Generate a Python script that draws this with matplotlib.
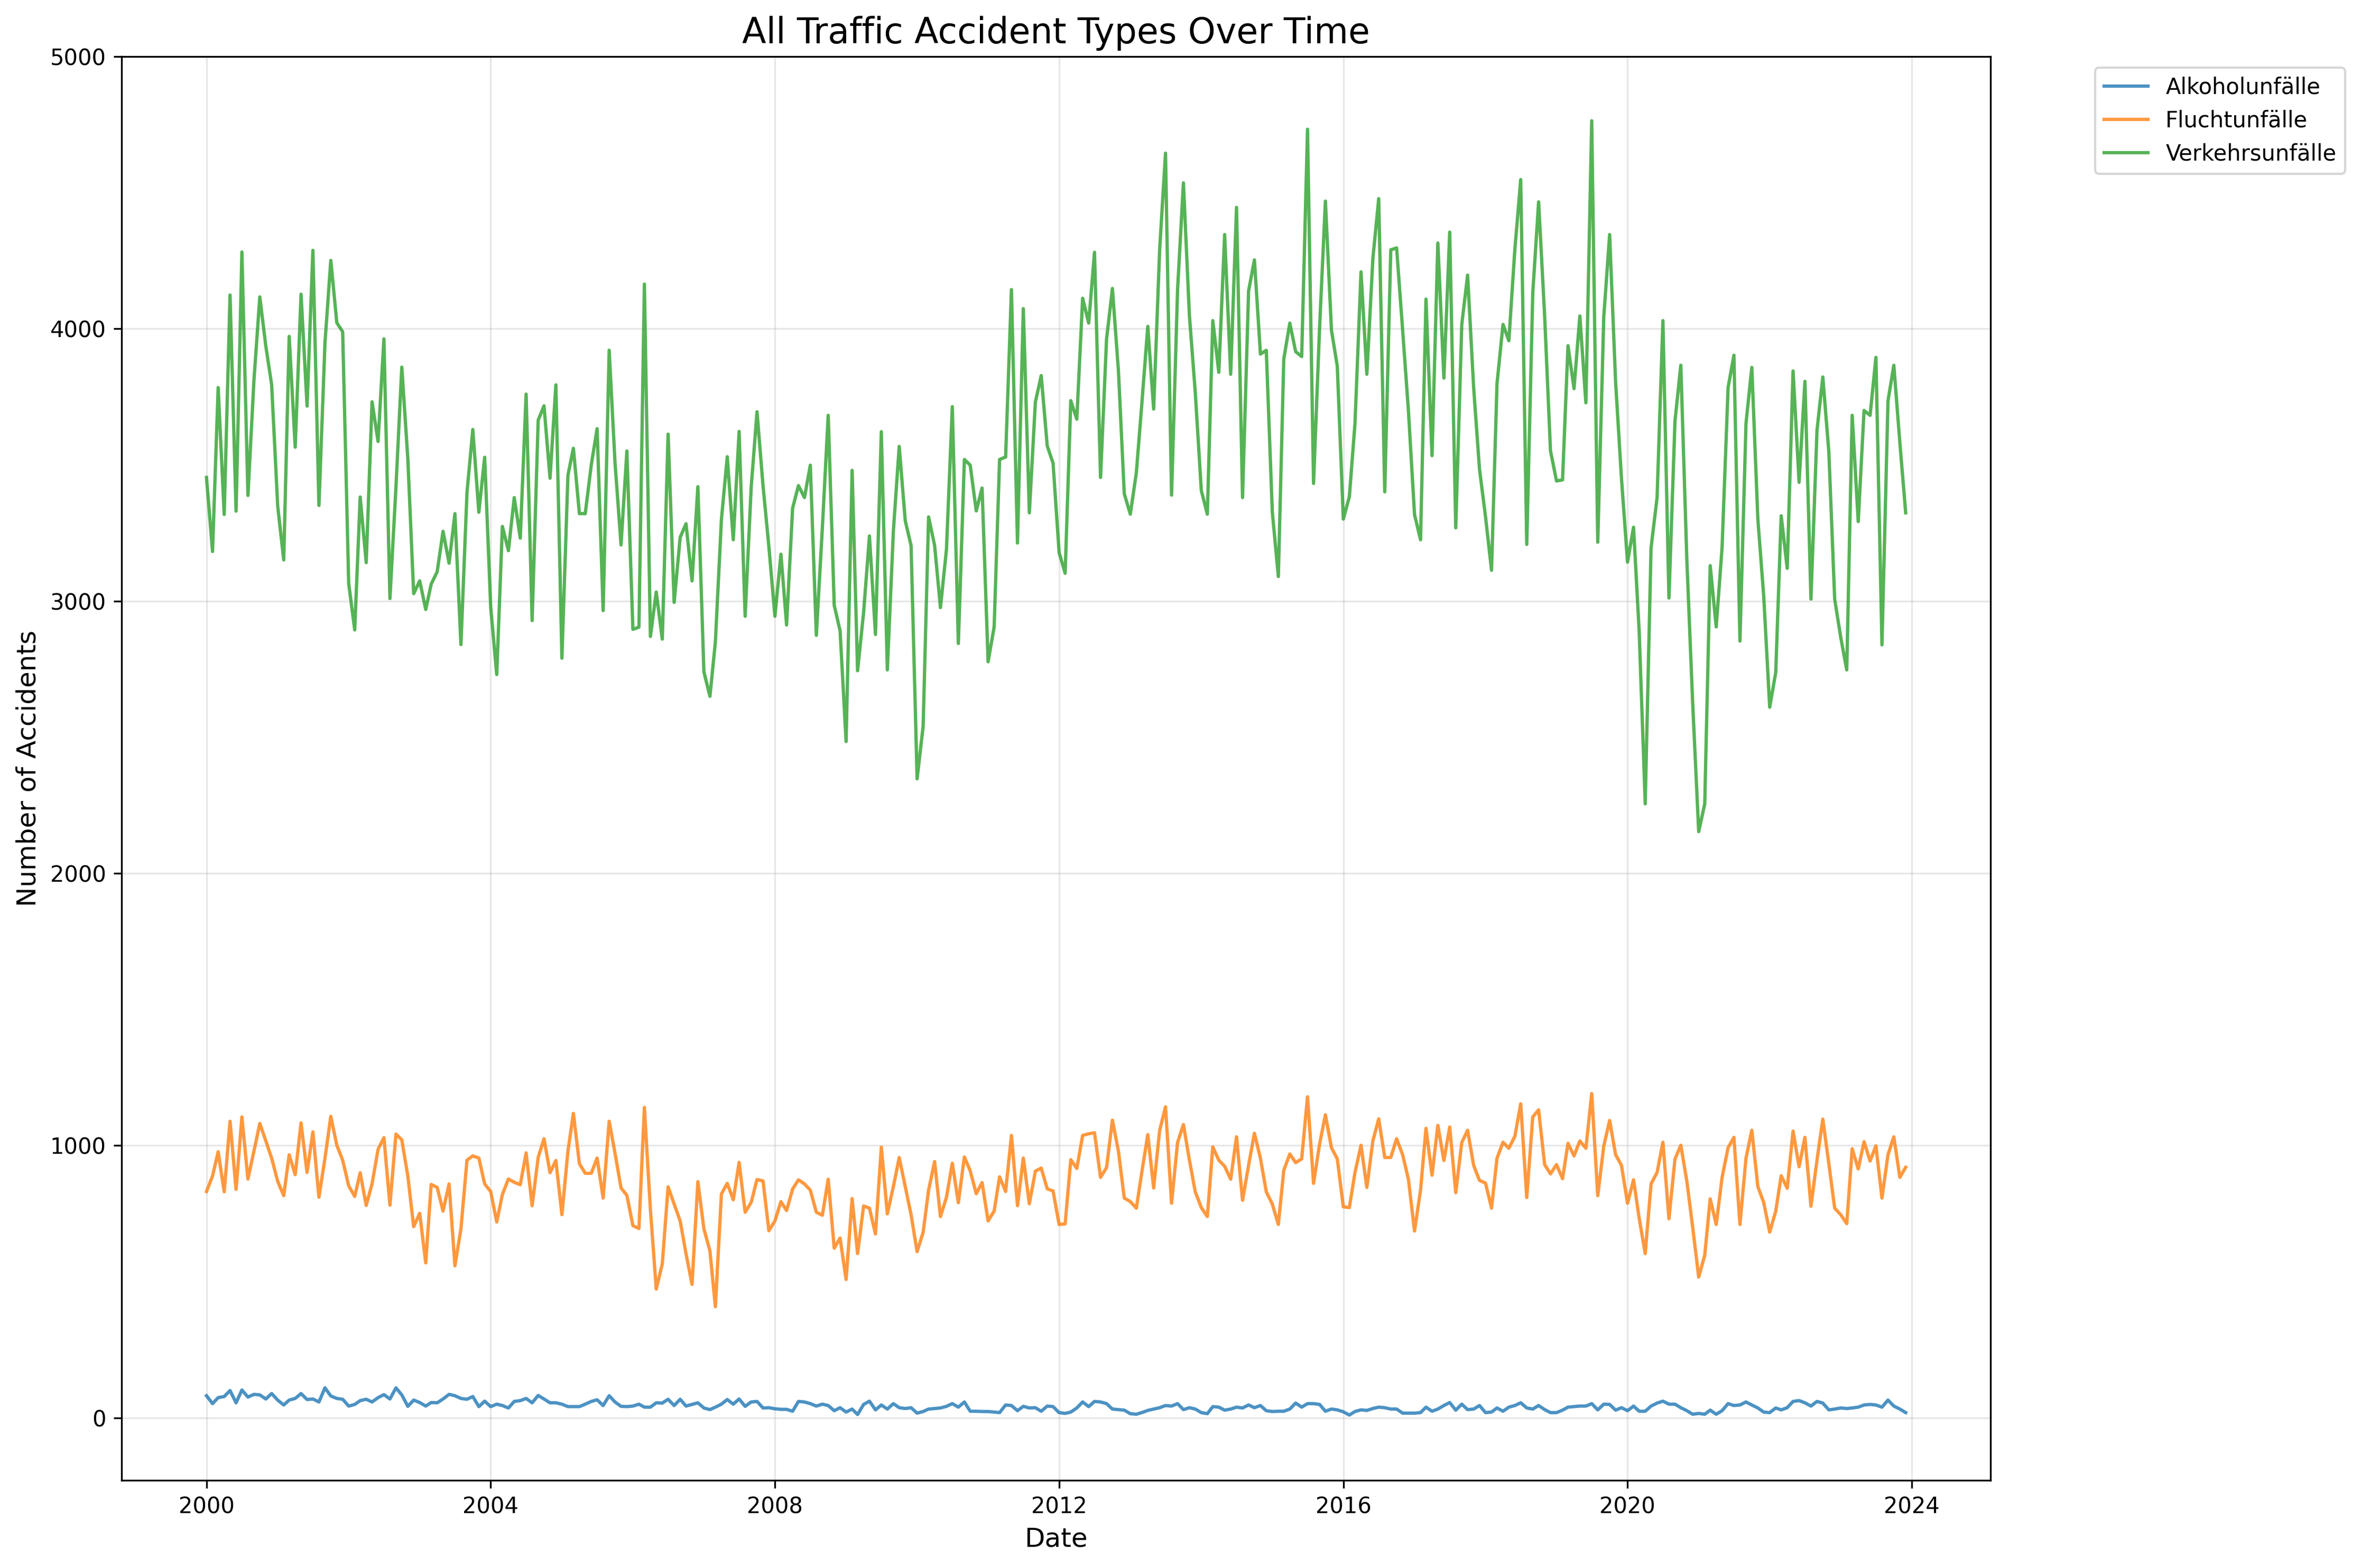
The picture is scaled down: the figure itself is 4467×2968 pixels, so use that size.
import matplotlib
matplotlib.use('Agg')
import matplotlib.pyplot as plt
import pandas as pd

# Monatswerte Jan 2000 - Dez 2023
dates = pd.date_range('2000-01-01', periods=288, freq='MS')

alkohol = [
    81, 52, 74, 78, 100, 55, 102, 76, 86, 84, 69, 89,
    65, 47, 65, 71, 89, 67, 69, 58, 110, 80, 71, 68,
    43, 49, 63, 68, 58, 74, 85, 69, 110, 84, 42, 65,
    56, 43, 56, 55, 69, 86, 81, 71, 68, 78, 41, 61,
    41, 50, 45, 36, 60, 63, 71, 55, 82, 69, 55, 55,
    50, 41, 41, 41, 50, 60, 66, 45, 81, 58, 42, 41,
    43, 50, 39, 39, 55, 54, 68, 45, 68, 43, 49, 55,
    36, 30, 39, 50, 67, 50, 69, 42, 58, 60, 36, 37,
    33, 31, 31, 24, 60, 58, 52, 43, 50, 45, 26, 37,
    21, 32, 12, 49, 61, 29, 47, 32, 52, 37, 34, 37,
    17, 23, 32, 34, 36, 42, 52, 39, 58, 24, 24, 23,
    23, 21, 19, 47, 45, 26, 42, 36, 37, 24, 43, 41,
    19, 16, 21, 36, 58, 41, 60, 58, 52, 32, 30, 28,
    15, 13, 19, 27, 32, 37, 45, 43, 52, 30, 37, 32,
    19, 15, 41, 39, 28, 32, 39, 36, 47, 37, 45, 26,
    23, 24, 24, 32, 54, 39, 52, 52, 49, 24, 32, 29,
    22, 10, 23, 29, 27, 34, 39, 37, 32, 32, 17, 17,
    17, 19, 39, 24, 32, 45, 56, 28, 50, 30, 32, 45,
    19, 21, 36, 24, 39, 45, 55, 36, 32, 45, 30, 19,
    19, 28, 39, 41, 43, 43, 52, 29, 50, 49, 28, 37,
    26, 43, 24, 24, 43, 54, 61, 50, 50, 37, 26, 13,
    16, 13, 28, 13, 26, 52, 45, 47, 58, 47, 36, 21,
    19, 36, 29, 37, 60, 63, 55, 43, 60, 54, 29, 32,
    36, 34, 36, 39, 47, 49, 47, 39, 65, 43, 32, 19,
]

flucht = [
    831, 888, 977, 830, 1089, 839, 1105, 877, 980, 1081, 1017, 953,
    869, 816, 966, 893, 1083, 901, 1050, 810, 953, 1107, 1001, 946,
    852, 813, 900, 780, 859, 986, 1029, 781, 1042, 1021, 888, 702,
    751, 569, 857, 846, 759, 859, 558, 694, 946, 962, 954, 859,
    831, 719, 820, 877, 865, 856, 973, 779, 956, 1025, 900, 945,
    746, 979, 1118, 933, 898, 898, 954, 807, 1089, 972, 844, 817,
    706, 695, 1140, 765, 473, 565, 848, 785, 723, 603, 490, 867,
    694, 613, 408, 822, 861, 801, 938, 755, 791, 875, 870, 687,
    723, 794, 761, 840, 874, 859, 836, 755, 744, 876, 623, 660,
    508, 805, 603, 778, 770, 675, 994, 749, 849, 956, 849, 746,
    610, 681, 836, 941, 739, 810, 935, 790, 958, 907, 823, 864,
    723, 759, 885, 831, 1037, 779, 954, 786, 906, 917, 841, 833,
    710, 712, 948, 916, 1037, 1043, 1047, 883, 919, 1093, 979, 807,
    794, 770, 901, 1040, 844, 1056, 1142, 788, 1011, 1077, 946, 830,
    772, 739, 995, 946, 924, 876, 1032, 799, 927, 1045, 953, 830,
    785, 710, 909, 969, 937, 951, 1179, 861, 1005, 1113, 992, 951,
    775, 772, 901, 1001, 846, 1017, 1098, 956, 956, 1025, 966, 875,
    686, 836, 1063, 891, 1074, 945, 1068, 827, 1011, 1056, 927, 872,
    862, 770, 953, 1012, 990, 1034, 1153, 809, 1105, 1131, 930, 896,
    930, 878, 1008, 962, 1017, 990, 1191, 816, 998, 1092, 966, 927,
    788, 874, 733, 603, 859, 901, 1012, 731, 950, 1001, 869, 700,
    517, 597, 804, 710, 882, 992, 1030, 710, 953, 1056, 849, 791,
    682, 759, 889, 843, 1053, 922, 1030, 777, 946, 1097, 933, 770,
    746, 713, 988, 914, 1014, 943, 999, 807, 966, 1032, 883, 920,
]

verkehr = [
    3454, 3182, 3784, 3318, 4124, 3330, 4282, 3388, 3812, 4117, 3936, 3794,
    3349, 3151, 3972, 3565, 4127, 3716, 4288, 3351, 3948, 4251, 4022, 3989,
    3064, 2894, 3382, 3141, 3732, 3586, 3963, 3009, 3420, 3859, 3522, 3027,
    3074, 2969, 3062, 3108, 3256, 3139, 3321, 2840, 3398, 3630, 3326, 3528,
    2978, 2730, 3274, 3185, 3380, 3231, 3760, 2928, 3664, 3717, 3451, 3794,
    2790, 3462, 3561, 3321, 3321, 3500, 3633, 2965, 3921, 3509, 3206, 3551,
    2896, 2904, 4164, 2870, 3033, 2860, 3613, 2995, 3234, 3284, 3074, 3420,
    2740, 2650, 2850, 3299, 3530, 3225, 3623, 2944, 3417, 3695, 3423, 3200,
    2944, 3172, 2912, 3341, 3424, 3380, 3499, 2874, 3270, 3682, 2984, 2891,
    2484, 3480, 2744, 2958, 3239, 2877, 3622, 2747, 3257, 3568, 3295, 3204,
    2347, 2540, 3309, 3204, 2976, 3190, 3714, 2844, 3520, 3499, 3331, 3415,
    2777, 2905, 3520, 3529, 4144, 3213, 4074, 3324, 3731, 3828, 3570, 3506,
    3178, 3102, 3736, 3668, 4112, 4021, 4281, 3454, 3963, 4148, 3845, 3394,
    3319, 3471, 3722, 4009, 3705, 4293, 4645, 3389, 4144, 4536, 4047, 3766,
    3406, 3319, 4030, 3840, 4346, 3833, 4446, 3380, 4139, 4253, 3907, 3921,
    3327, 3090, 3889, 4021, 3916, 3898, 4733, 3432, 4004, 4469, 3995, 3863,
    3301, 3383, 3652, 4209, 3833, 4258, 4478, 3401, 4290, 4297, 3995, 3696,
    3318, 3225, 4109, 3534, 4315, 3819, 4355, 3269, 4016, 4197, 3784, 3485,
    3310, 3113, 3798, 4016, 3956, 4293, 4548, 3208, 4132, 4466, 4047, 3552,
    3441, 3445, 3938, 3780, 4047, 3728, 4764, 3216, 4044, 4346, 3801, 3450,
    3143, 3271, 2888, 2255, 3195, 3380, 4030, 3011, 3661, 3866, 3151, 2624,
    2153, 2255, 3130, 2905, 3195, 3784, 3903, 2853, 3652, 3858, 3301, 3020,
    2610, 2738, 3313, 3120, 3845, 3436, 3807, 3007, 3626, 3823, 3547, 3007,
    2867, 2747, 3682, 3292, 3700, 3682, 3895, 2839, 3735, 3866, 3582, 3324,
]

df = pd.DataFrame({
    'Alkoholunfälle': alkohol,
    'Fluchtunfälle': flucht,
    'Verkehrsunfälle': verkehr,
}, index=dates)

fig, ax = plt.subplots(figsize=(15, 10))

for col in df.columns:
    ax.plot(df.index, df[col], label=col, linewidth=1.5, alpha=0.8)

ax.set_title('All Traffic Accident Types Over Time', fontsize=16)
ax.set_xlabel('Date', fontsize=12)
ax.set_ylabel('Number of Accidents', fontsize=12)
ax.set_ylim(-230, 5000)
ax.grid(True, alpha=0.3)
ax.legend(bbox_to_anchor=(1.05, 1), loc='upper left')

plt.tight_layout()
plt.savefig('out.png', dpi=300, bbox_inches='tight')
